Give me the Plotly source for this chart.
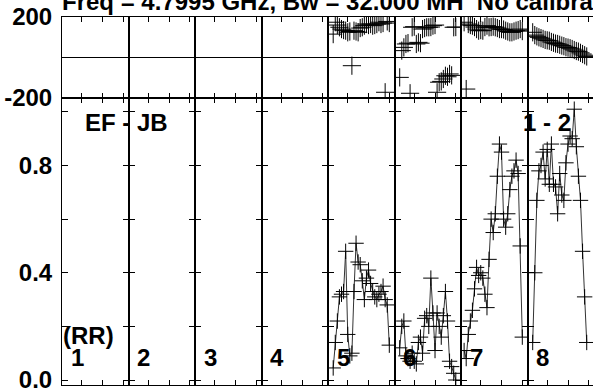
import plotly.graph_objects as go
from plotly.subplots import make_subplots

# ---------------- data ----------------
if_labels = ["1", "2", "3", "4", "5", "6", "7", "8"]

if5_chan = list(range(3, 31))
if5_amp = [0.045, 0.14, 0.22, 0.31, 0.32, 0.33, 0.48, 0.17, 0.09, 0.10, 0.33, 0.51, 0.44, 0.43,
           0.37, 0.30, 0.38, 0.41, 0.36, 0.33, 0.31, 0.30, 0.32, 0.33, 0.35, 0.30, 0.28, 0.13]
if5_phase = [115, 174, 160, 149, 140, 135, 132, 124, 128, -42, 132, 128, 124, 145,
             149, 157, 165, 160, 165, 157, 160, 165, 174, 165, 170, -174, 178, 170]

if6_chan = list(range(3, 31))
if6_amp = [0.12, 0.20, 0.22, 0.09, 0.08, 0.07, 0.10, 0.07, 0.06, 0.14, 0.16, 0.10, 0.23, 0.24,
           0.20, 0.38, 0.25, 0.11, 0.25, 0.20, 0.16, 0.24, 0.33, 0.22, 0.07, 0.05, 0.025, 0.0]
if6_phase = [-100, 33, 49, 66, 70, -179, 149, 152, 66, 74, 70, 140, 145, 149,
             149, 150, 157, 160, -174, -124, -120, -108, -92, -97, -83, -90, 149, 150]

if7_chan = list(range(2, 31))
if7_amp = [0.11, 0.08, 0.17, 0.22, 0.26, 0.34, 0.42, 0.39, 0.40, 0.38, 0.32, 0.27, 0.45, 0.60,
           0.55, 0.62, 0.76, 0.88, 0.85, 0.60, 0.57, 0.62, 0.71, 0.76, 0.78, 0.82, 0.77, 0.50, 0.16]
if7_phase = [174, -158, 165, 160, 157, 150, 140, 132, 135, 132, 150, 157, 149, 150,
             152, 149, 145, 140, 140, 138, 132, 128, 124, 124, 128, 132, 135, 140, 130]

if8_chan = list(range(3, 30))
if8_amp = [0.14, 0.40, 0.67, 0.78, 0.80, 0.85, 0.75, 0.86, 0.73, 0.88, 0.73, 0.72, 0.62, 0.77,
           0.69, 0.67, 0.81, 0.88, 0.91, 0.90, 1.01, 0.87, 0.76, 0.67, 0.48, 0.31, 0.14]
if8_phase = [124, 110, 104, 99, 95, 91, 86, 84, 82, 76, 72, 68, 66, 62,
             58, 55, 50, 48, 45, 41, 36, 31, 28, 22, 16, 10, 4]

amp_tickvals = [0.0, 0.2, 0.4, 0.6, 0.8, 1.0]
amp_ticktext = ["0.0", "", "0.4", "", "0.8", ""]
phase_tickvals = [-200, 200]
phase_ticktext = ["-200", "200"]
chan_tickvals = [10, 20, 30]

title_text = "Freq = 4.7995 GHz, Bw = 32.000 MH  No calibration"
baseline_text = "EF - JB"
pair_text = "1 - 2"
pol_text = "(RR)"

# ---------------- layout geometry ----------------
W, H = 594, 388
ML, MR, MT, MB = 62, 0, 17, 3
PW, PH = W - ML - MR, H - MT - MB
FONT = "Liberation Sans, Arial, Helvetica, sans-serif"


def px(x):
    return (x - ML) / PW


def py(y):
    return (H - MB - y) / PH


fig = make_subplots(rows=2, cols=8, horizontal_spacing=0, vertical_spacing=0,
                    row_heights=[80.5, 287.5])

cross = dict(symbol="cross-thin", line=dict(width=1, color="black"))
series = {5: (if5_chan, if5_amp, if5_phase), 6: (if6_chan, if6_amp, if6_phase),
          7: (if7_chan, if7_amp, if7_phase), 8: (if8_chan, if8_amp, if8_phase)}
for col in range(1, 9):
    if col in series:
        ch, amp, ph = series[col]
    else:
        ch, amp, ph = [None], [None], [None]
    fig.add_trace(go.Scatter(x=ch, y=ph, mode="markers", showlegend=False,
                             marker=dict(size=13, color="black", **cross)),
                  row=1, col=col)
    fig.add_trace(go.Scatter(x=ch, y=amp, mode="lines+markers", showlegend=False,
                             line=dict(color="#333333", width=1),
                             marker=dict(size=11, color="black", **cross)),
                  row=2, col=col)

for r in (1, 2):
    for c in range(1, 9):
        fig.update_xaxes(row=r, col=c, visible=True, automargin=False, range=[0.5, 32.5],
                         tickvals=chan_tickvals, ticks="inside", ticklen=5, tickcolor="black",
                         tickwidth=1, showticklabels=False, showline=True, linecolor="black",
                         linewidth=1, mirror="ticks", showgrid=False, zeroline=False)
        common = dict(visible=True, automargin=False, ticks="inside", ticklen=6,
                      tickcolor="black", tickwidth=1,
                      showticklabels=(c == 1), showline=True, linecolor="black",
                      linewidth=1, mirror=("ticks" if c < 8 else False),
                      showgrid=False, ticklabelstandoff=4, ticklabeloverflow="allow")
        if r == 1:
            fig.update_yaxes(row=r, col=c, range=[-200, 200], tickvals=phase_tickvals,
                             ticktext=phase_ticktext, zeroline=True,
                             zerolinecolor="black", zerolinewidth=1, **common)
        else:
            fig.update_yaxes(row=r, col=c, range=[-0.0186, 1.0536], tickvals=amp_tickvals,
                             ticktext=amp_ticktext, zeroline=False, **common)

ann_font = dict(family=FONT, size=24, color="black", weight="bold")
annotations = [
    dict(text=title_text, x=px(60), y=py(1), xanchor="left", yanchor="middle",
         font=dict(family=FONT, size=24, color="black", weight="bold")),
    dict(text=baseline_text, x=px(83), y=py(123), xanchor="left", yanchor="middle", font=ann_font),
    dict(text=pair_text, x=px(521), y=py(123), xanchor="left", yanchor="middle", font=ann_font),
    dict(text=pol_text, x=px(61), y=py(335), xanchor="left", yanchor="middle", font=ann_font),
]
for i, lab in enumerate(if_labels):
    start = ML + i * PW / 8
    annotations.append(dict(text=lab, x=px(start + 6.5), y=py(357), xanchor="left",
                            yanchor="middle", font=ann_font))
for a in annotations:
    a.update(xref="paper", yref="paper", showarrow=False, align="left")

fig.update_layout(width=W, height=H, autosize=False,
                  margin=dict(l=ML, r=MR, t=MT, b=MB, pad=0, autoexpand=False),
                  paper_bgcolor="white", plot_bgcolor="white",
                  font=dict(family=FONT, size=24, color="black", weight="bold"),
                  annotations=annotations, showlegend=False)

fig.write_html("out.html", config={"displayModeBar": False, "responsive": False},
               post_script="document.body.style.margin='0';document.body.style.overflow='hidden';")
